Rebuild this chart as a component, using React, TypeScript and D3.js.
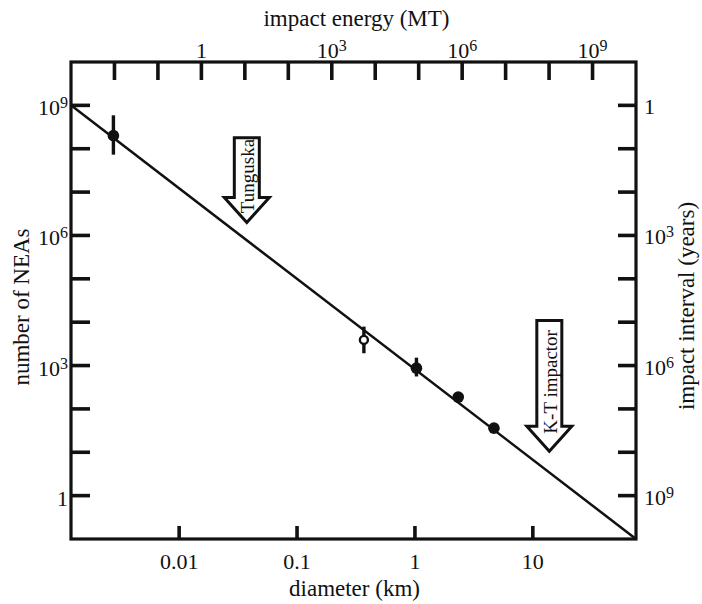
import React from 'react';
import { scaleLog, line, range } from 'd3';

// diameter (km) vs number of NEAs
const lineDiameter = [0.00121, 75];
const lineCount = [1e9, 0.1];

const pointDiameter = [0.00277, 0.369, 1.03, 2.33, 4.68];
const pointCount = [2.0e8, 3900, 870, 187, 36];
const pointLow = [7.3e7, 1920, 560, null, null];
const pointHigh = [5.9e8, 7900, 1520, null, null];
const pointOpen = [false, true, false, false, false];

const bottomTicks = [0.01, 0.1, 1, 10];
const bottomLabels = ['0.01', '0.1', '1', '10'];
const countExps = range(0, 10); // 1 .. 10^9
const countLabelExps = [0, 3, 6, 9];
const energyExps = range(-2, 10); // 10^-2 .. 10^9
const energyLabelExps = [0, 3, 6, 9];
const intervalExps = range(0, 10);
const intervalLabelExps = [0, 3, 6, 9];

const arrows = [
  { label: 'Tunguska', d: 0.0375, from: 1.8e8, to: 2e6 },
  { label: 'K-T impactor', d: 13.8, from: 1.1e4, to: 10.5 },
];

const W = 702;
const H = 604;
const left = 71;
const right = 636;
const top = 62;
const bottom = 539;
const FONT = 'Liberation Serif, Times New Roman, Times, serif';
const INK = '#111';

const txt = { fontFamily: FONT, fontSize: 22, fill: INK };
const title = { ...txt, fontSize: 23 };

const Pow = ({ e, x, y, anchor }) =>
  e === 0 ? (
    <text x={x} y={y} textAnchor={anchor} style={txt}>1</text>
  ) : (
    <text x={x} y={y} textAnchor={anchor} style={txt}>
      10<tspan dy={-7} style={{ fontSize: 16 }}>{e}</tspan>
    </text>
  );

export default function App() {
  const x = scaleLog().domain([0.00121, 75]).range([left, right]);
  const y = scaleLog().domain([0.1, 1e10]).range([bottom, top]);
  const xE = scaleLog().domain([1e-3, 1e10]).range([left, right]);
  const yI = scaleLog().domain([1e10, 0.1]).range([bottom, top]);

  const fit = line()(lineDiameter.map((d, i) => [x(d), y(lineCount[i])]));
  const midX = (left + right) / 2;

  return (
    <svg width={W} height={H} style={{ position: 'absolute', left: 0, top: 0, background: '#fff' }}>
      {/* fit line */}
      <path d={fit} fill="none" stroke={INK} strokeWidth={2.5} />

      {/* frame */}
      <rect x={left} y={top} width={right - left} height={bottom - top} fill="none" stroke={INK} strokeWidth={3.2} />

      {/* left axis */}
      {countExps.map((e) => (
        <line key={'l' + e} x1={left} x2={left + 19} y1={y(10 ** e)} y2={y(10 ** e)} stroke={INK} strokeWidth={3.6} />
      ))}
      {countLabelExps.map((e) => (
        <Pow key={'ll' + e} e={e} x={left - 3} y={y(10 ** e) + 10} anchor="end" />
      ))}
      <text transform={`translate(29,307) rotate(-90)`} textAnchor="middle" style={title}>
        number of NEAs
      </text>

      {/* right axis */}
      {intervalExps.map((e) => (
        <line key={'r' + e} x1={right - 18} x2={right} y1={yI(10 ** e)} y2={yI(10 ** e)} stroke={INK} strokeWidth={3.6} />
      ))}
      {intervalLabelExps.map((e) => (
        <Pow key={'rl' + e} e={e} x={right + 8} y={yI(10 ** e) + 9} anchor="start" />
      ))}
      <text transform={`translate(694,306) rotate(-90)`} textAnchor="middle" style={title}>
        impact interval (years)
      </text>

      {/* top axis */}
      {energyExps.map((e) => (
        <line key={'t' + e} x1={xE(10 ** e)} x2={xE(10 ** e)} y1={top} y2={top + 18} stroke={INK} strokeWidth={3.6} />
      ))}
      {energyLabelExps.map((e) => (
        <Pow key={'tl' + e} e={e} x={xE(10 ** e)} y={top - 4} anchor="middle" />
      ))}
      <text x={midX + 3} y={26} textAnchor="middle" style={title}>
        impact energy (MT)
      </text>

      {/* bottom axis */}
      {bottomTicks.map((t) => (
        <line key={'b' + t} x1={x(t)} x2={x(t)} y1={bottom} y2={bottom - 13} stroke={INK} strokeWidth={3.6} />
      ))}
      {bottomTicks.map((t, i) => (
        <text key={'bl' + t} x={x(t)} y={bottom + 30} textAnchor="middle" style={txt}>
          {bottomLabels[i]}
        </text>
      ))}
      <text x={midX + 1} y={596} textAnchor="middle" style={title}>
        diameter (km)
      </text>

      {/* data points */}
      {pointDiameter.map((d, i) => {
        const cx = x(d);
        const cy = y(pointCount[i]);
        return (
          <g key={'p' + i}>
            {pointLow[i] != null && (
              <line x1={cx} x2={cx} y1={y(pointLow[i])} y2={y(pointHigh[i])} stroke={INK} strokeWidth={3.4} />
            )}
            {pointOpen[i] ? (
              <circle cx={cx} cy={cy} r={4} fill="#fff" stroke={INK} strokeWidth={2.4} />
            ) : (
              <circle cx={cx} cy={cy} r={5.8} fill={INK} />
            )}
          </g>
        );
      })}

      {/* annotation arrows */}
      {arrows.map((a) => {
        const ax = x(a.d);
        const y0 = y(a.from);
        const y1 = y(a.to);
        const hh = 25;
        const p = [
          [ax - 12.5, y0],
          [ax + 12.5, y0],
          [ax + 12.5, y1 - hh],
          [ax + 22.5, y1 - hh],
          [ax, y1],
          [ax - 22.5, y1 - hh],
          [ax - 12.5, y1 - hh],
        ];
        const d = line()(p) + 'Z';
        const cy = (y0 + y1) / 2 - 4;
        return (
          <g key={a.label}>
            <path d={d} fill="#fff" stroke={INK} strokeWidth={3} strokeLinejoin="miter" />
            <text transform={`translate(${ax + 1},${cy}) rotate(-90)`} textAnchor="middle" dy="0.35em" style={{ ...txt, fontSize: 19 }}>
              {a.label}
            </text>
          </g>
        );
      })}
    </svg>
  );
}
